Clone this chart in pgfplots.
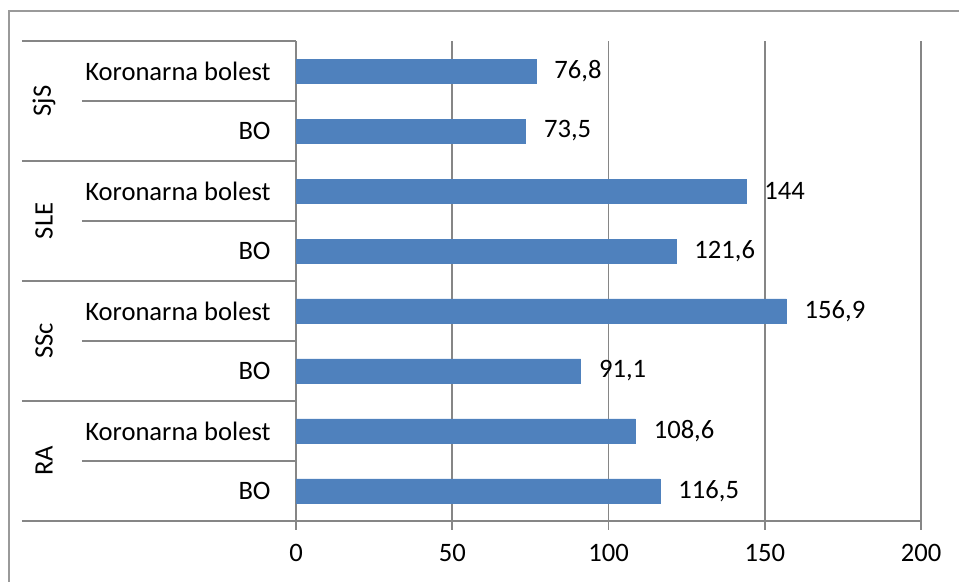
\documentclass[border=0pt]{standalone}
\usepackage{pgfplots}
\pgfplotsset{compat=1.18}
\usepackage{pgfplotstable}
\usepackage{fontspec}
\setmainfont{Carlito}
\definecolor{barblue}{HTML}{4F81BD}
\definecolor{gridgray}{HTML}{868686}
\definecolor{framegray}{HTML}{9A9A9A}
\pgfplotstableread{
y x label
0 116.5 116,5
1 108.6 108,6
2 91.1 91,1
3 156.9 156,9
4 121.6 121,6
5 144 144
6 73.5 73,5
7 76.8 76,8
}\data
\begin{document}
\fontsize{13.3}{16}\selectfont
\begin{tikzpicture}
\path[use as bounding box] (0,0) rectangle (479.5pt,291pt);
\begin{axis}[
  at={(148pt,30.5pt)}, anchor=south west,
  scale only axis, width=312.5pt, height=240pt,
  xmin=0, xmax=200, ymin=-0.5, ymax=7.5,
  xbar, bar width=12pt,
  xtick={0,50,100,150,200},
  ytick={0,1,2,3,4,5,6,7},
  yticklabels={BO,Koronarna bolest,BO,Koronarna bolest,BO,Koronarna bolest,BO,Koronarna bolest},
  axis x line*=bottom, axis y line*=left,
  axis line style={draw=gridgray, line width=0.85pt, -},
  xmajorgrids, grid style={draw=gridgray, line width=0.85pt},
  xtick align=outside, major tick length=4.5pt,
  xtick style={draw=gridgray, line width=0.85pt},
  ytick style={draw=none},
  yticklabel style={inner sep=0pt, anchor=east, xshift=-8pt},
  xticklabel style={inner sep=0pt, anchor=north, yshift=-7pt},
  /pgf/number format/assume math mode=true,
  clip=false,
  nodes near coords,
  point meta=explicit symbolic,
  every node near coord/.append style={anchor=west, inner sep=0pt, xshift=9pt, text=black},
]
\addplot[fill=barblue, draw=barblue] table[x=x, y=y, meta=label] {\data};
\draw[gridgray, line width=0.85pt] ([xshift=-137pt]axis cs:0,-0.5) -- (axis cs:0,-0.5);
\draw[gridgray, line width=0.85pt] ([xshift=-137pt]axis cs:0,1.5) -- (axis cs:0,1.5);
\draw[gridgray, line width=0.85pt] ([xshift=-137pt]axis cs:0,3.5) -- (axis cs:0,3.5);
\draw[gridgray, line width=0.85pt] ([xshift=-137pt]axis cs:0,5.5) -- (axis cs:0,5.5);
\draw[gridgray, line width=0.85pt] ([xshift=-137pt]axis cs:0,7.5) -- (axis cs:0,7.5);
\draw[gridgray, line width=0.85pt] ([xshift=-107pt]axis cs:0,0.5) -- (axis cs:0,0.5);
\draw[gridgray, line width=0.85pt] ([xshift=-107pt]axis cs:0,2.5) -- (axis cs:0,2.5);
\draw[gridgray, line width=0.85pt] ([xshift=-107pt]axis cs:0,4.5) -- (axis cs:0,4.5);
\draw[gridgray, line width=0.85pt] ([xshift=-107pt]axis cs:0,6.5) -- (axis cs:0,6.5);
\node[rotate=90, inner sep=0pt] at ([xshift=-126pt]axis cs:0,0.5) {RA};
\node[rotate=90, inner sep=0pt] at ([xshift=-126pt]axis cs:0,2.5) {SSc};
\node[rotate=90, inner sep=0pt] at ([xshift=-126pt]axis cs:0,4.5) {SLE};
\node[rotate=90, inner sep=0pt] at ([xshift=-126pt]axis cs:0,6.5) {SjS};
\end{axis}
\draw[framegray, line width=0.9pt] (4.5pt,0) -- (4.5pt,285.5pt) -- (479.5pt,285.5pt);
\end{tikzpicture}
\end{document}
